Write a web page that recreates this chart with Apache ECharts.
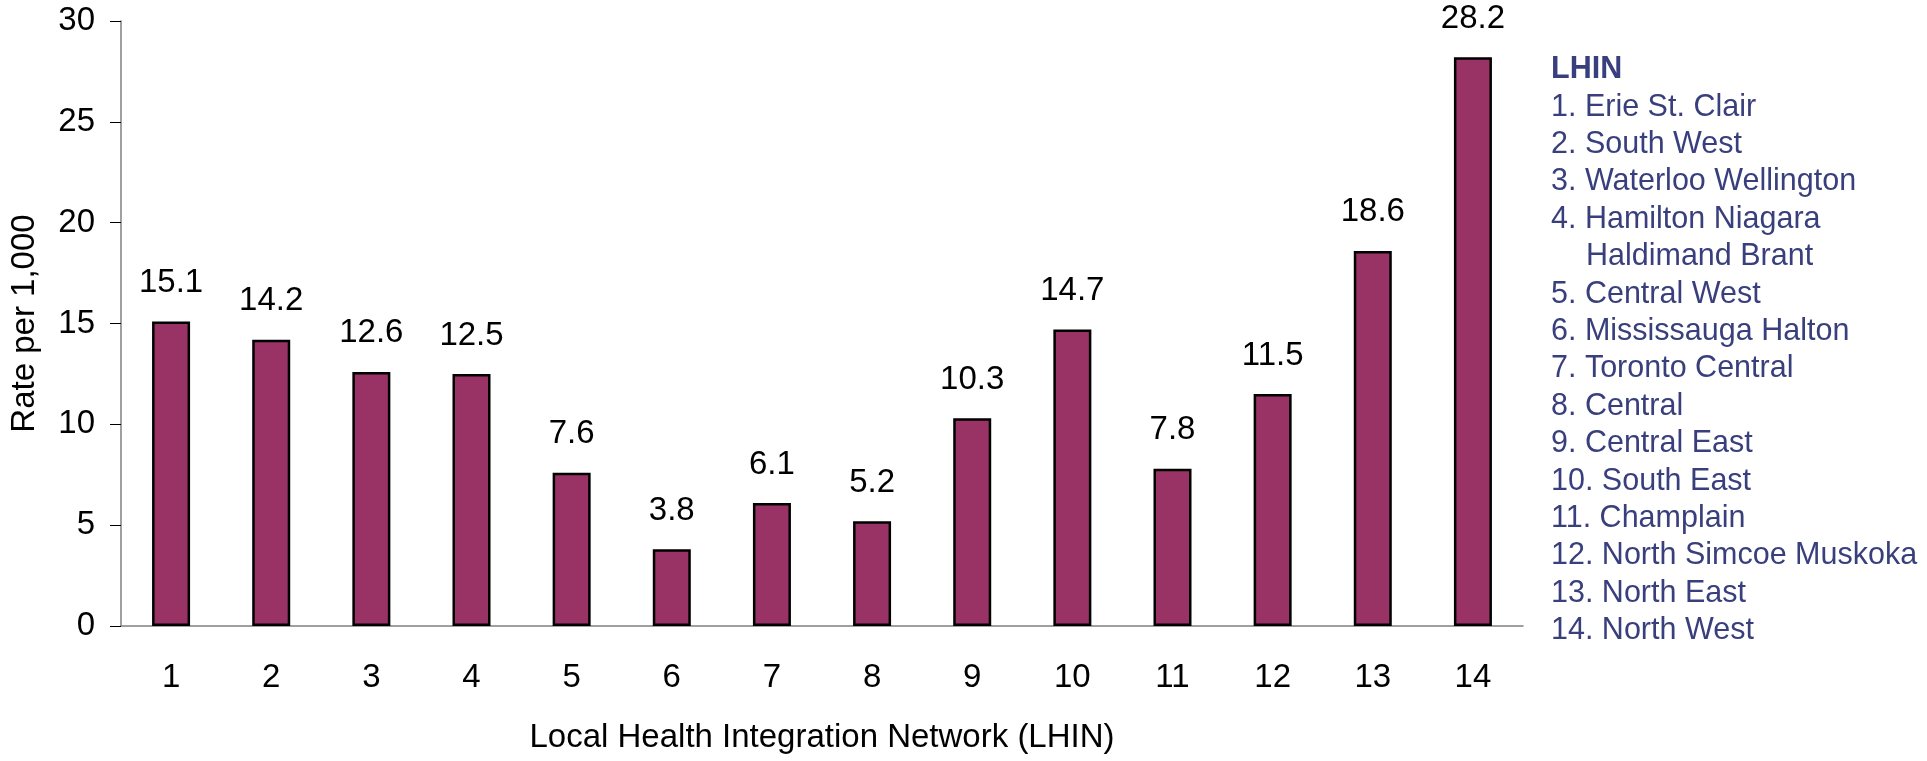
<!DOCTYPE html>
<html>
<head>
<meta charset="utf-8">
<title>Rate per 1,000 by LHIN</title>
<script src="https://cdn.jsdelivr.net/npm/echarts@6/dist/echarts.min.js"></script>
<style>
  html, body { margin: 0; padding: 0; background: #fff; }
  #main { width: 1927px; height: 761px; }
</style>
</head>
<body>
<div id="main"></div>
<script>
// LHIN numbers shown on the x axis
var categories = ['1', '2', '3', '4', '5', '6', '7', '8', '9', '10', '11', '12', '13', '14'];
// rate per 1,000 for each LHIN
var rates = [15.1, 14.2, 12.6, 12.5, 7.6, 3.8, 6.1, 5.2, 10.3, 14.7, 7.8, 11.5, 18.6, 28.2];
// names for the key at the right
var lhinNames = [
  '1. Erie St. Clair',
  '2. South West',
  '3. Waterloo Wellington',
  '4. Hamilton Niagara',
  'Haldimand Brant',
  '5. Central West',
  '6. Mississauga Halton',
  '7. Toronto Central',
  '8. Central',
  '9. Central East',
  '10. South East',
  '11. Champlain',
  '12. North Simcoe Muskoka',
  '13. North East',
  '14. North West'
];

var font = 'Liberation Sans, Arial, sans-serif';
var keyColor = '#383f7c';

// build the key text, the second half of LHIN 4 is indented
var keyText = '{hd|LHIN}\n' + lhinNames.map(function (n) {
  return n.charAt(0) >= '0' && n.charAt(0) <= '9' ? '{it|' + n + '}' : '{ind|' + n + '}';
}).join('\n');

var myChart = echarts.init(document.getElementById('main'));
var option = {
  animation: false,
  backgroundColor: '#fff',
  textStyle: { fontFamily: font },
  grid: { left: 121, right: 404, top: 21, bottom: 135 },
  xAxis: {
    type: 'category',
    data: categories,
    name: 'Local Health Integration Network (LHIN)',
    nameLocation: 'middle',
    nameGap: 95,
    nameTextStyle: { fontSize: 33, color: '#000', fontFamily: font },
    axisLine: { lineStyle: { color: '#808080', width: 1.5 } },
    axisTick: { length: 11, lineStyle: { color: '#000', width: 1.5 } },
    axisLabel: { fontSize: 33, color: '#000', margin: 35, fontFamily: font }
  },
  yAxis: {
    type: 'value',
    min: 0,
    max: 30,
    interval: 5,
    name: 'Rate per 1,000',
    nameLocation: 'middle',
    nameGap: 80,
    nameTextStyle: { fontSize: 33, color: '#000', fontFamily: font },
    axisLine: { show: true, lineStyle: { color: '#808080', width: 1.5 } },
    axisTick: { show: true, length: 11, lineStyle: { color: '#000', width: 1 } },
    axisLabel: { fontSize: 33, color: '#000', margin: 26, fontFamily: font },
    splitLine: { show: false }
  },
  series: [
    {
      type: 'bar',
      data: rates,
      barWidth: 38,
      itemStyle: { color: '#993366', borderColor: '#000', borderWidth: 2.5 },
      label: {
        show: true,
        position: 'top',
        distance: 22,
        fontSize: 33,
        color: '#000',
        fontFamily: font,
        formatter: function (p) { return p.value.toFixed(1); }
      }
    }
  ],
  graphic: [
    {
      type: 'text',
      left: 1551,
      top: 51,
      style: {
        text: keyText,
        fill: keyColor,
        fontFamily: font,
        fontSize: 30.5,
        lineHeight: 37.4,
        rich: {
          hd: { fontWeight: 'bold', fontSize: 30.5, lineHeight: 37.4, fill: keyColor, fontFamily: font },
          it: { fontSize: 30.5, lineHeight: 37.4, fill: keyColor, fontFamily: font },
          ind: { fontSize: 30.5, lineHeight: 37.4, fill: keyColor, fontFamily: font, padding: [0, 0, 0, 35] }
        }
      }
    }
  ]
};
myChart.setOption(option);
</script>
</body>
</html>
